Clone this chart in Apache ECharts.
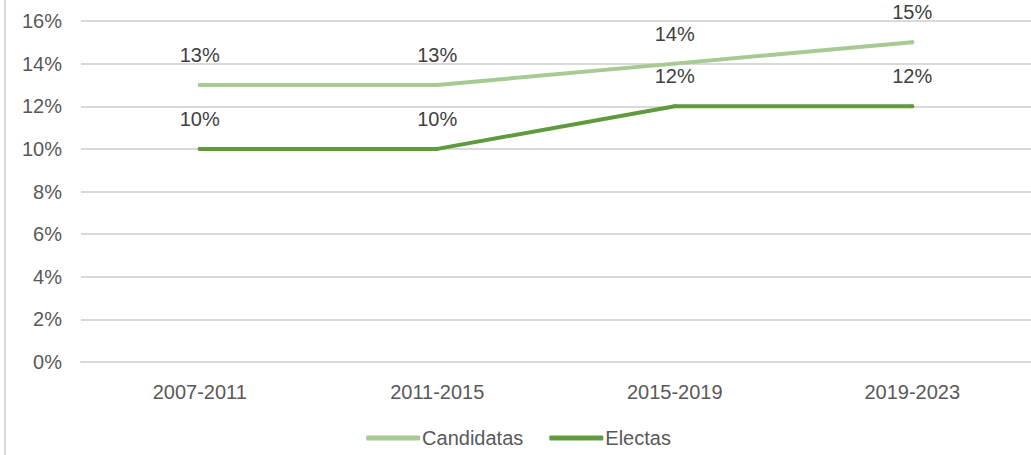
<!DOCTYPE html>
<html>
<head>
<meta charset="utf-8">
<script src="https://cdn.jsdelivr.net/npm/echarts@6/dist/echarts.min.js"></script>
<style>
  html, body { margin: 0; padding: 0; background: #fff; }
  #chart-container { position: absolute; left: 4px; top: 0; width: 1025px; height: 455px; border-left: 2px solid #d9d9d9; }
</style>
</head>
<body>
<div id="chart-container"></div>
<script>
var periods = ['2007-2011', '2011-2015', '2015-2019', '2019-2023'];
var candidatas = [13, 13, 14, 15];
var electas = [10, 10, 12, 12];

var dom = document.getElementById('chart-container');
var myChart = echarts.init(dom, null, {renderer: 'svg'});

var font = '"Liberation Sans", Arial, sans-serif';
var label = {
  show: true, position: 'top', distance: 18,
  color: '#404040', fontSize: 20, fontFamily: font,
  formatter: function (p) { return p.value + '%'; }
};

option = {
  animation: false,
  grid: {left: 75, right: 0, top: 21, bottom: 93},
  legend: {
    bottom: 2, left: 'center',
    icon: 'roundRect', itemWidth: 54, itemHeight: 5, itemGap: 26,
    textStyle: {color: '#595959', fontSize: 20, fontFamily: font, padding: [0, 0, 0, -3]},
    data: ['Candidatas', 'Electas']
  },
  xAxis: {
    type: 'category', data: periods,
    axisLine: {lineStyle: {color: '#d9d9d9', width: 2}},
    axisTick: {show: false},
    axisLabel: {color: '#595959', fontSize: 20, fontFamily: font, margin: 20}
  },
  yAxis: {
    type: 'value', min: 0, max: 16, interval: 2,
    axisLabel: {color: '#595959', fontSize: 20, fontFamily: font, margin: 19, formatter: '{value}%'},
    splitLine: {lineStyle: {color: '#d9d9d9', width: 2}}
  },
  series: [
    {
      name: 'Candidatas', type: 'line', data: candidatas,
      symbol: 'circle', symbolSize: 4, showSymbol: true,
      lineStyle: {color: '#a6ca92', width: 4, cap: 'round'},
      itemStyle: {color: '#a6ca92'}, label: label
    },
    {
      name: 'Electas', type: 'line', data: electas,
      symbol: 'circle', symbolSize: 4, showSymbol: true,
      lineStyle: {color: '#5f9a3e', width: 4, cap: 'round'},
      itemStyle: {color: '#5f9a3e'}, label: label
    }
  ]
};

myChart.setOption(option);
window.addEventListener('resize', myChart.resize);
</script>
</body>
</html>
